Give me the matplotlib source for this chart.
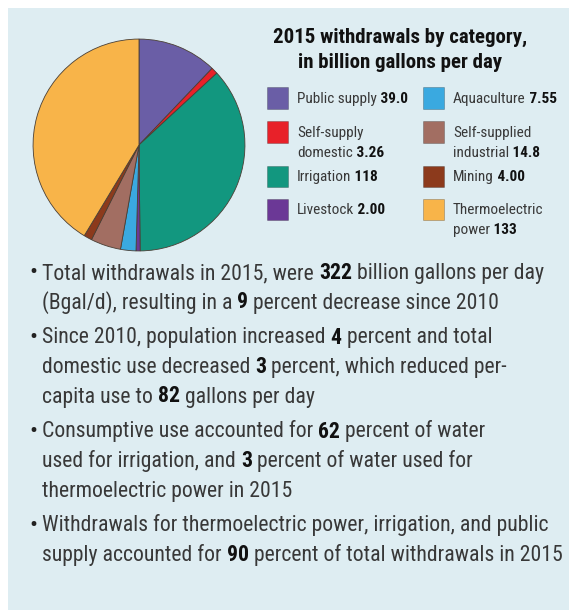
import matplotlib
matplotlib.use("Agg")
import matplotlib.pyplot as plt
from matplotlib.patches import Rectangle

W, H = 569, 610

# 2015 withdrawals, billion gallons per day
categories = ["Public supply", "Self-supply domestic", "Irrigation", "Livestock",
              "Aquaculture", "Self-supplied industrial", "Mining", "Thermoelectric power"]
value_labels = ["39.0", "3.26", "118", "2.00", "7.55", "14.8", "4.00", "133"]
withdrawals = [float(v) for v in value_labels]
colors = ["#6a5ea6", "#e82129", "#12977f", "#6b3896",
          "#3aa9e0", "#a26e62", "#8c3a1c", "#f8b449"]
# how each legend entry wraps
legend_lines = [["Public supply"], ["Self-supply", "domestic"], ["Irrigation"], ["Livestock"],
                ["Aquaculture"], ["Self-supplied", "industrial"], ["Mining"], ["Thermoelectric", "power"]]

title_lines = ["2015 withdrawals by category,", "in billion gallons per day"]

# bullet paragraphs: lines of (text, bold) pieces
bullets = [
    [[("Total withdrawals in 2015, were ", False), ("322", True), (" billion gallons per day", False)],
     [("(Bgal/d), resulting in a ", False), ("9", True), (" percent decrease since 2010", False)]],
    [[("Since 2010, population increased ", False), ("4", True), (" percent and total", False)],
     [("domestic use decreased ", False), ("3", True), (" percent, which reduced per-", False)],
     [("capita use to ", False), ("82", True), (" gallons per day", False)]],
    [[("Consumptive use accounted for ", False), ("62", True), (" percent of water", False)],
     [("used for irrigation, and ", False), ("3", True), (" percent of water used for", False)],
     [("thermoelectric power in 2015", False)]],
    [[("Withdrawals for thermoelectric power, irrigation, and public", False)],
     [("supply accounted for ", False), ("90", True), (" percent of total withdrawals in 2015", False)]],
]

FONT = ["Roboto Condensed", "Archivo Narrow", "Asap Condensed", "DejaVu Sans"]
TEXT = "#383838"


def px(x, y):
    return x / W, 1 - y / H


def rich_line(fig, renderer, x, y, parts, size):
    for s, bold in parts:
        t = fig.text(*px(x, y), s, fontsize=size, family=FONT, color="#111111" if bold else TEXT,
                     fontweight="bold" if bold else "normal", va="baseline", ha="left")
        x += t.get_window_extent(renderer).width


fig = plt.figure(figsize=(W / 100, H / 100), dpi=100, facecolor="white")
fig.patches.append(Rectangle(px(8, H), (W - 8) / W, (H - 8) / H, transform=fig.transFigure,
                             facecolor="#deedf2", edgecolor="none", zorder=-5))

# pie
ax = fig.add_axes([32 / W, 1 - 252 / H, 214 / W, 214 / H])
ax.pie(withdrawals, colors=colors, startangle=90, counterclock=False,
       wedgeprops=dict(edgecolor="#4a3f35", linewidth=0.6))
ax.set_xlim(-1.01, 1.01)
ax.set_ylim(-1.01, 1.01)
ax.set_aspect("equal")
ax.axis("off")

renderer = fig.canvas.get_renderer()

# legend title
for i, line in enumerate(title_lines):
    fig.text(*px(400, 43 + 25 * i), line, fontsize=15, family=FONT, fontweight=800,
             color="#111111", ha="center", va="baseline")

# legend boxes and labels, two columns of four
box_x = [267, 423]
text_x = [297, 453]
row_y = [98, 132, 176, 209]
for i, cat in enumerate(categories):
    col, row = divmod(i, 4)
    cy = row_y[row]
    fig.patches.append(Rectangle(px(box_x[col], cy + 10.5), 21 / W, 21 / H, transform=fig.transFigure,
                                 facecolor=colors[i], edgecolor="#00000040", linewidth=0.6))
    lines = legend_lines[i]
    for j, line in enumerate(lines):
        parts = [(line, False)]
        if j == len(lines) - 1:
            parts.append((" " + value_labels[i], True))
        rich_line(fig, renderer, text_x[col], cy + 5 + 20 * j, parts, 11)

# bullet list
y = 279
for para in bullets:
    fig.text(*px(29, y), "\u2022", fontsize=17, family=FONT, color="#222222", va="baseline")
    for line in para:
        rich_line(fig, renderer, 42, y, line, 15.7)
        y += 29.5
    y += 5.5

fig.savefig("out.png", dpi=100, facecolor="white")
